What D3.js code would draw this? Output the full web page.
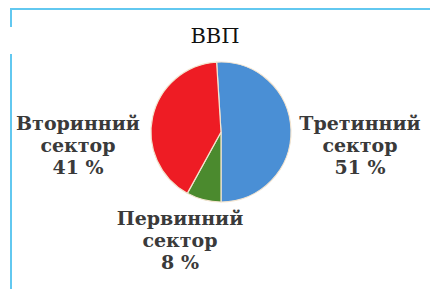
<!DOCTYPE html>
<html>
<head>
<meta charset="utf-8">
<script src="https://cdn.jsdelivr.net/npm/d3@7"></script>
<style>
  body { margin: 0; background: #fff; }
</style>
</head>
<body>
<div id="chart"></div>
<script>
var title = "ВВП";
var sectors = ["Третинний", "Первинний", "Вторинний"];
var shares = [51, 8, 41];
var colors = ["#4a8fd5", "#4b8a2e", "#ee1c24"];

var width = 430,
    height = 291,
    cx = 221,
    cy = 132,
    radius = 70,
    serif = "'DejaVu Serif', 'Liberation Serif', serif";

var svg = d3.select("#chart")
    .append("svg")
        .attr("width", width)
        .attr("height", height);

/* frame lines */
var frame = "#62c8f0";
svg.append("line").attr("x1", 10).attr("x2", width).attr("y1", 9).attr("y2", 9)
    .attr("stroke", frame).attr("stroke-width", 2);
svg.append("line").attr("x1", 11).attr("x2", 11).attr("y1", 8).attr("y2", 27)
    .attr("stroke", frame).attr("stroke-width", 2);
svg.append("line").attr("x1", 11).attr("x2", 11).attr("y1", 54).attr("y2", 289)
    .attr("stroke", frame).attr("stroke-width", 2);

svg.append("text")
    .attr("x", 215)
    .attr("y", 43)
    .attr("text-anchor", "middle")
    .attr("font-family", serif)
    .attr("font-size", 21)
    .attr("fill", "#111")
    .text(title);

/* pie */
var pie = d3.pie()
    .sort(null)
    .startAngle(-0.063)
    .endAngle(2 * Math.PI - 0.063);

var arc = d3.arc().innerRadius(0).outerRadius(radius);

svg.append("g")
    .attr("transform", "translate(" + cx + "," + cy + ")")
    .selectAll("path")
    .data(pie(shares))
    .enter().append("path")
        .attr("d", arc)
        .attr("fill", function(d, i) { return colors[i]; })
        .attr("stroke", "#f3e4cf")
        .attr("stroke-width", 1.2);

/* labels */
var labelPos = [
    { x: 360, y: 130 },
    { x: 180, y: 225 },
    { x: 78, y: 130 }
];

var labels = svg.append("g")
    .selectAll("text")
    .data(sectors)
    .enter().append("text")
        .attr("text-anchor", "middle")
        .attr("font-family", serif)
        .attr("font-size", 19)
        .attr("font-weight", "bold")
        .attr("fill", "#3a3a3a")
        .attr("x", function(d, i) { return labelPos[i].x; })
        .attr("y", function(d, i) { return labelPos[i].y; });

labels.each(function(d, i) {
    var t = d3.select(this);
    var lines = [d, "сектор", shares[i] + " %"];
    lines.forEach(function(l, k) {
        t.append("tspan")
            .attr("x", labelPos[i].x)
            .attr("dy", k === 0 ? 0 : 22)
            .text(l);
    });
});
</script>
</body>
</html>
